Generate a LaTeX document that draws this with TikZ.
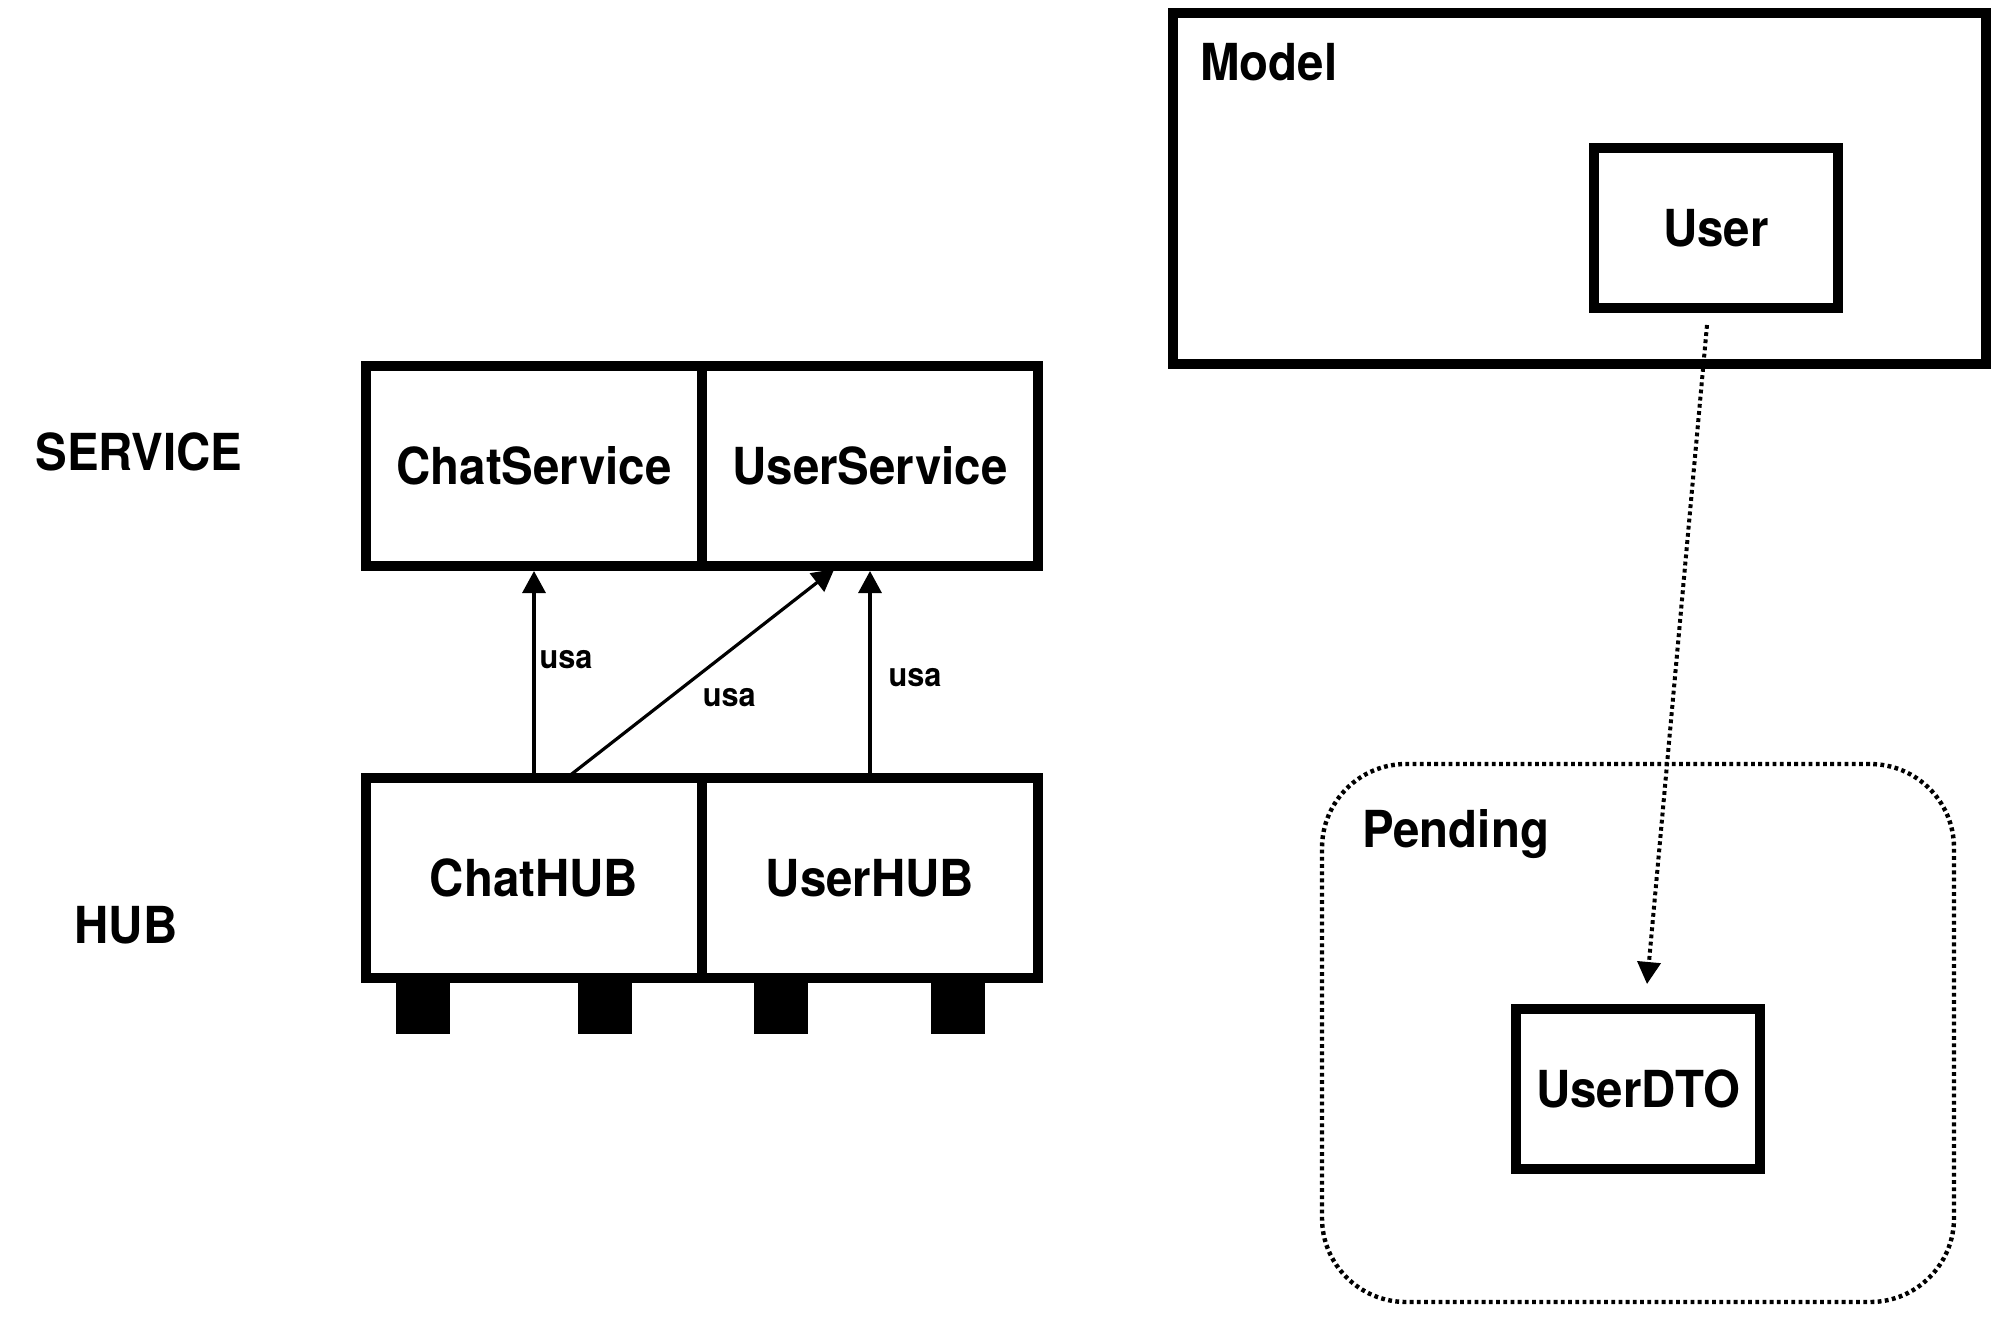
\documentclass[tikz,border=0pt]{standalone}
\usepackage{fontspec}
\setmainfont{TeX Gyre Heros}[FakeStretch=0.93]
\usetikzlibrary{positioning,arrows.meta}

\tikzset{
  box/.style={draw, line width=5pt, outer sep=0pt, inner sep=0pt,
    minimum width=168pt, minimum height=100pt, font=\bfseries\fontsize{25.5}{30}\selectfont},
  smallbox/.style={box, minimum width=122pt, minimum height=80pt},
  layer/.style={inner sep=0pt, font=\bfseries\fontsize{25.5}{30}\selectfont},
  tip/.style={-{Triangle[length=11pt,width=11.5pt]}},
  uses/.style={tip, line width=1.6pt, shorten >=2.5pt},
  usalbl/.style={font=\bfseries\fontsize{16.5}{19}\selectfont, inner sep=2pt},
  dots/.style={dash pattern=on 1.9pt off 1.7pt},
}

\begin{document}
\begin{tikzpicture}[x=0.5pt, y=-0.5pt]
\useasboundingbox (0,0) rectangle (2014,1344);

% Service layer
\node[layer] (lblservice) at (139,452) {SERVICE};
\node[box] (chatsrv) at (534,466) {ChatService};
\node[box, right=0pt of chatsrv] (usersrv) {UserService};

% Hub layer
\node[layer] (lblhub) at (126,925) {HUB};
\node[box, below=106pt of chatsrv] (chathub) {ChatHUB};
\node[box, right=0pt of chathub] (userhub) {UserHUB};

% feet under the hubs
\foreach \fx in {396,578,754,931} {
  \fill (\fx,983) rectangle ++(54,51);
}

% hub -> service
\draw[uses] (chathub.north) -- node[usalbl, right, pos=0.557] {usa} (chatsrv.south);
\draw[uses] ([xshift=16.3pt]chathub.north) -- node[usalbl, pos=0.448, anchor=north west, xshift=4.5pt] {usa} ([xshift=-15.9pt]usersrv.south);
\draw[uses] (userhub.north) -- node[usalbl, right, pos=0.476, xshift=6.5pt] {usa} (usersrv.south);

% Model package
\node[box, minimum width=406.5pt, minimum height=175.5pt] (model) at (1579.5,188.5) {};
\node[layer, anchor=base west] (lblmodel) at (1200,80) {Model};
\node[smallbox] (user) at (1716,228) {User};

% Pending package
\node[draw, dots, line width=2.2pt, rounded corners=42pt,
  minimum width=316pt, minimum height=269pt] (pending) at (1638,1033) {};
\node[layer, anchor=base west] (lblpending) at (1362,847) {Pending};
\node[smallbox] (dto) at (1638,1089) {UserDTO};

% User -> UserDTO
\draw[tip, line width=2pt, dots]
  ([xshift=-4.5pt,yshift=-8.5pt]user.south) -- ([xshift=4.5pt,yshift=12.5pt]dto.north);

\end{tikzpicture}
\end{document}
